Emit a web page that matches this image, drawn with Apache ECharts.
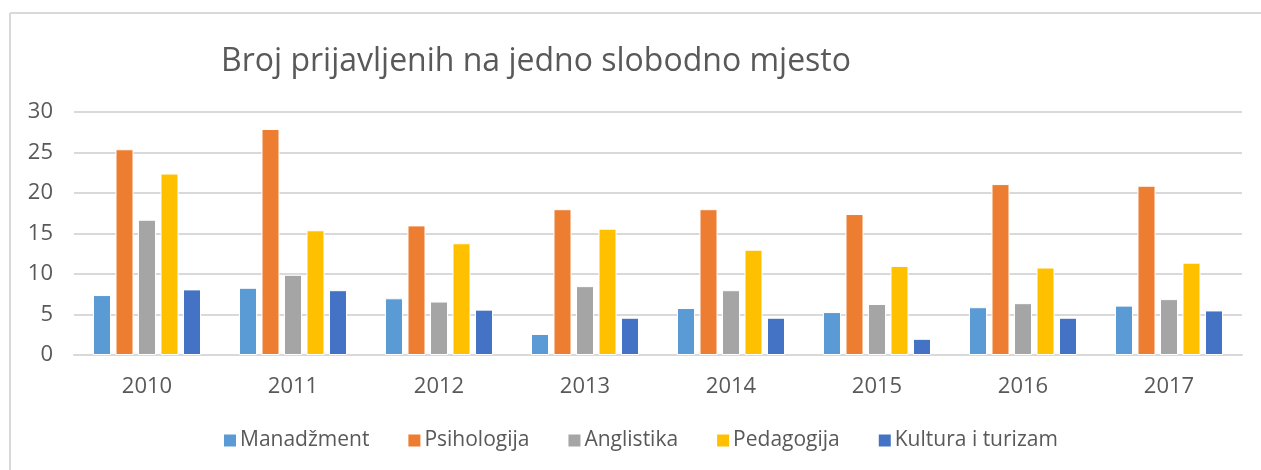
<!DOCTYPE html>
<html>
<head>
<meta charset="utf-8">
<script src="https://cdn.jsdelivr.net/npm/echarts@6/dist/echarts.min.js"></script>
<style>
html,body{margin:0;padding:0;background:#fff;}
#c{width:1261px;height:470px;}
</style>
</head>
<body>
<div id="c"></div>
<script>
const categories = ['2010','2011','2012','2013','2014','2015','2016','2017'];
const manadzment = [7.4, 8.3, 7.0, 2.6, 5.8, 5.3, 5.9, 6.1];
const psihologija = [25.4, 27.9, 16.0, 18.0, 18.0, 17.4, 21.1, 20.9];
const anglistika = [16.7, 9.9, 6.6, 8.5, 8.0, 6.3, 6.4, 6.9];
const pedagogija = [22.4, 15.4, 13.8, 15.6, 13.0, 11.0, 10.8, 11.4];
const kultura = [8.1, 8.0, 5.6, 4.6, 4.6, 2.0, 4.6, 5.5];
const seriesNames = ['Manadžment','Psihologija','Anglistika','Pedagogija','Kultura i turizam'];
const seriesData = [manadzment, psihologija, anglistika, pedagogija, kultura];
const colors = ['#5B9BD5','#ED7D31','#A5A5A5','#FFC000','#4472C4'];

const FONT = '"Open Sans", "Noto Sans", sans-serif';
const chart = echarts.init(document.getElementById('c'), null, {renderer:'canvas'});
chart.setOption({
  animation:false,
  color: colors,
  title:{
    text:'Broj prijavljenih na jedno slobodno mjesto',
    left:216, top:41,
    textStyle:{fontFamily:FONT, fontSize:32, fontWeight:'normal', color:'#595959'}
  },
  legend:{
    left:222, top:430, padding:0,
    itemWidth:14, itemHeight:14, itemGap:37,
    icon:'rect',
    textStyle:{fontFamily:FONT, fontSize:21, color:'#595959', padding:[0,0,0,-2]},
    data: seriesNames
  },
  grid:{left:74, right:19, top:112, bottom:115},
  xAxis:{
    type:'category', data:categories,
    axisLine:{lineStyle:{color:'#d9d9d9', width:2}},
    axisTick:{show:false},
    axisLabel:{fontFamily:FONT, fontSize:22, color:'#595959', margin:21}
  },
  yAxis:{
    type:'value', min:0, max:30, interval:5,
    axisLine:{show:false}, axisTick:{show:false},
    splitLine:{lineStyle:{color:'#d9d9d9', width:2}},
    axisLabel:{fontFamily:FONT, fontSize:22, color:'#595959', margin:21}
  },
  graphic:[
    {type:'line', shape:{x1:10, y1:13, x2:1261, y2:13}, style:{stroke:'#d9d9d9', lineWidth:2}},
    {type:'line', shape:{x1:10, y1:13, x2:10, y2:470}, style:{stroke:'#d9d9d9', lineWidth:2}}
  ],
  series: seriesNames.map((n,i)=>({
    name:n, type:'bar', data:seriesData[i],
    barWidth:18, barGap:'25%',
    itemStyle:{color:colors[i], borderColor:'#fff', borderWidth:1}
  }))
});
</script>
</body>
</html>
